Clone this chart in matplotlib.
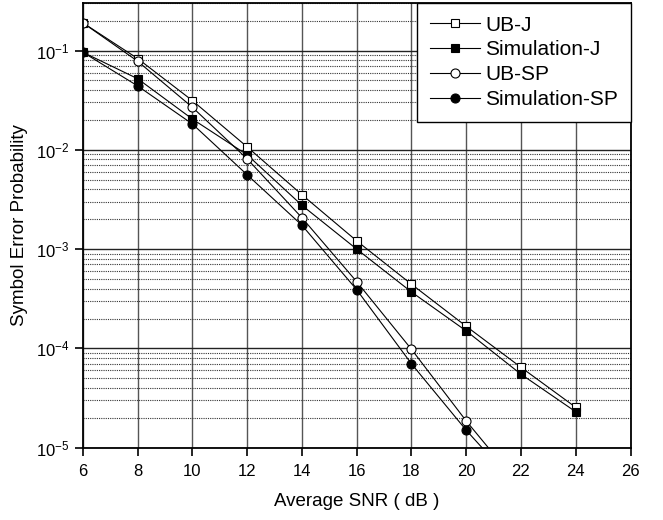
import numpy as np
import matplotlib.pyplot as plt
from matplotlib.ticker import LogLocator, FixedLocator, NullFormatter

plt.rcParams['font.family'] = ['Liberation Sans', 'DejaVu Sans']
plt.rcParams['mathtext.fontset'] = 'custom'
plt.rcParams['mathtext.rm'] = 'Liberation Sans'

# ---- data ----
snr_j = [6, 8, 10, 12, 14, 16, 18, 20, 22, 24]
ub_j  = [0.19, 0.083, 0.0313, 0.0107, 0.00353, 0.00121, 0.000443, 0.000167, 6.45e-5, 2.55e-5]
sim_j = [0.096, 0.052, 0.0204, 0.0089, 0.00276, 0.00100, 0.00037, 0.000150, 5.5e-5, 2.3e-5]

snr_sp = [6, 8, 10, 12, 14, 16, 18, 20, 22]
ub_sp  = [0.19, 0.078, 0.0268, 0.0081, 0.00207, 0.00047, 9.8e-5, 1.86e-5, 4.0e-6]
sim_sp = [0.096, 0.044, 0.0182, 0.0056, 0.00174, 0.00039, 7.0e-5, 1.5e-5, 3.7e-6]

x_ticks = [6, 8, 10, 12, 14, 16, 18, 20, 22, 24, 26]

fig = plt.figure(figsize=(6.63, 5.2), dpi=100)
ax = fig.add_axes([0.125, 0.139, 0.826, 0.855])

ax.set_yscale('log')
ax.set_xlim(6, 26)
ax.set_ylim(1e-5, 0.3)

# grid
ax.xaxis.set_major_locator(FixedLocator(x_ticks))
ax.yaxis.set_major_locator(LogLocator(base=10, numticks=10))
ax.yaxis.set_minor_locator(LogLocator(base=10, subs=np.arange(2, 10), numticks=20))
ax.yaxis.set_minor_formatter(NullFormatter())
ax.grid(True, which='major', axis='x', color='#555555', linewidth=1.0)
ax.grid(True, which='major', axis='y', color='#222222', linewidth=1.0)
ax.grid(True, which='minor', axis='y', color='#333333', linewidth=0.8, linestyle=(0, (1, 1)))
ax.set_axisbelow(True)

kw = dict(color='black', linewidth=0.8, markeredgewidth=0.8)
ax.plot(snr_j, ub_j, marker='s', markersize=5.5, markerfacecolor='white', label='UB-J', **kw)
ax.plot(snr_j, sim_j, marker='s', markersize=5.5, markerfacecolor='black', label='Simulation-J', **kw)
ax.plot(snr_sp, ub_sp, marker='o', markersize=6.5, markerfacecolor='white', label='UB-SP', **kw)
ax.plot(snr_sp, sim_sp, marker='o', markersize=6.5, markerfacecolor='black', label='Simulation-SP', **kw)

for s in ax.spines.values():
    s.set_linewidth(1.3)
ax.tick_params(axis='both', which='major', direction='out', length=6, width=1.2,
               labelsize=12, top=False, right=False)
ax.tick_params(axis='y', which='minor', length=0)
ax.tick_params(axis='x', pad=6)

ax.set_xlabel('Average SNR ( dB )', fontsize=13.5, labelpad=10)
ax.set_ylabel('Symbol Error Probability', fontsize=13.5, labelpad=6)

leg = ax.legend(loc='upper right', fontsize=15, handlelength=2.4, handletextpad=0.25,
                borderpad=0.6, labelspacing=0.28, fancybox=False, framealpha=1,
                edgecolor='black', borderaxespad=0.0, bbox_to_anchor=(1.0, 1.0))
leg.get_frame().set_linewidth(1.0)

fig.savefig('out.png', dpi=100)
